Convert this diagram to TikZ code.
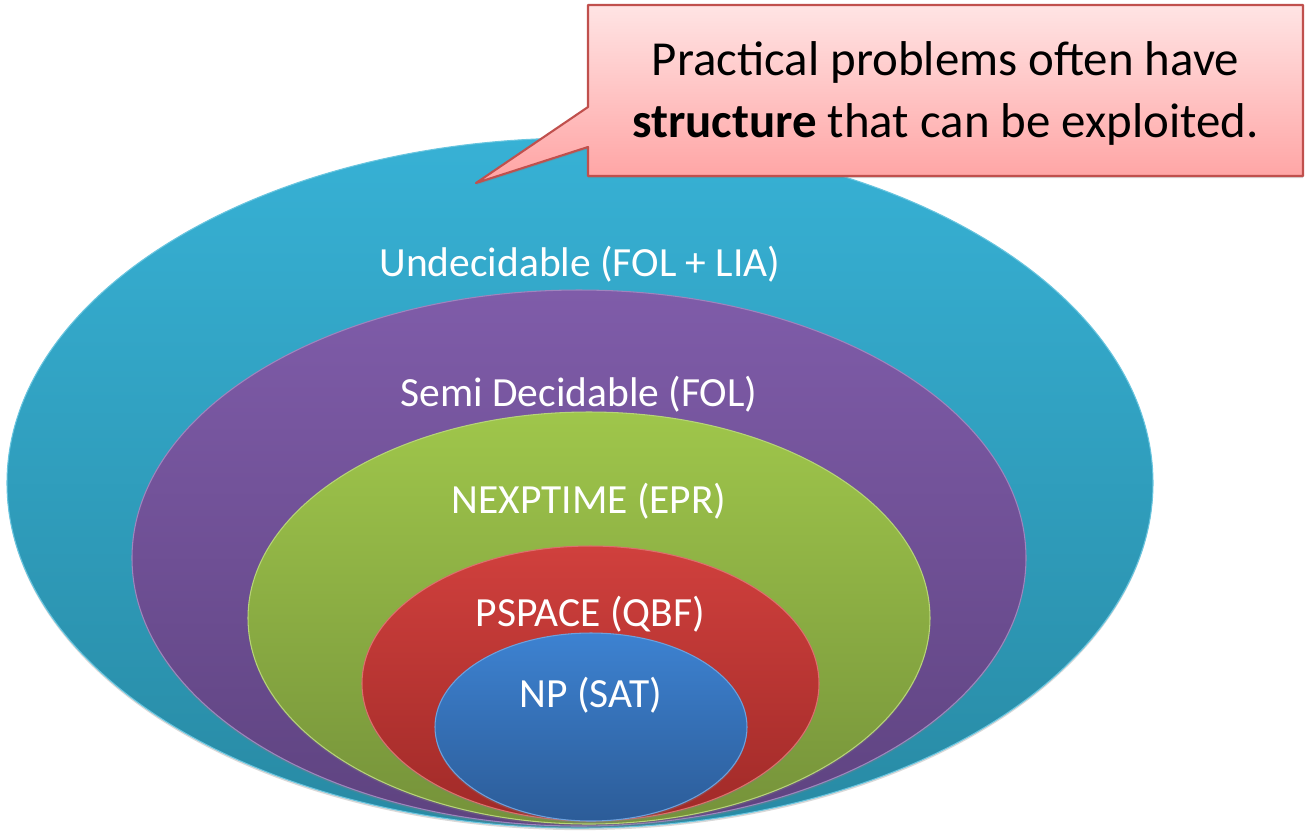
\documentclass[tikz,border=0pt]{standalone}
\usepackage{fontspec}
\setmainfont{Carlito}
\usetikzlibrary{shadows}
\definecolor{und1}{HTML}{37B1D5}
\definecolor{und2}{HTML}{288AA4}
\definecolor{semi1}{HTML}{7F5CA9}
\definecolor{semi2}{HTML}{5E4380}
\definecolor{nexp1}{HTML}{9FC64B}
\definecolor{nexp2}{HTML}{75923A}
\definecolor{psp1}{HTML}{D0403D}
\definecolor{psp2}{HTML}{A02A28}
\definecolor{np1}{HTML}{3D82D1}
\definecolor{np2}{HTML}{2C5C98}
\definecolor{note1}{HTML}{FFE4E4}
\definecolor{note2}{HTML}{FFA3A3}
\definecolor{noteline}{HTML}{C0504D}
\begin{document}
\begin{tikzpicture}[x=0.01cm,y=-0.01cm,line join=round,
  blob/.style={drop shadow={opacity=0.3,shadow xshift=0pt,shadow yshift=-0.6pt}},
  lbl/.style={anchor=base,text=white,font=\fontsize{11.8}{13}\selectfont}]
    \useasboundingbox (0,0) rectangle (1311,838);
    \foreach \n/\ct/\cb/\cx/\cy/\rx/\ry/\ly/\lab in {und/und1/und2/580/483/573/345/276/{Undecidable (FOL + LIA)},
        semi/semi1/semi2/579/558/447/268/406/{Semi Decidable (FOL)},
        nexp/nexp1/nexp2/589/618/341/206/513/{NEXPTIME (EPR)},
        psp/psp1/psp2/590.5/683.5/228.5/137.5/626/{PSPACE (QBF)},
        np/np1/np2/591/727/156/94/707/{NP (SAT)}}
    {
        \path[blob,top color=\ct,bottom color=\cb,draw=\ct!75!white,line width=0.3pt] (\cx,\cy) ellipse [x radius=\rx,y radius=\ry];
        \node[lbl] (\n) at (\cx,\ly) {\lab};
    }
    \coordinate (tip) at (476,183);
    \path[blob,top color=note1,bottom color=note2,draw=noteline,line width=0.6pt]
        (588,5) -- (1303,5) -- (1303,176) -- (588,176) -- (588,147) -- (tip) -- (588,107) -- cycle;
    \node[align=center,anchor=base,font=\fontsize{13.9}{17.4}\selectfont] (note) at (945.5,137)
        {Practical problems often have\\\textbf{structure} that can be exploited.};
\end{tikzpicture}
\end{document}
